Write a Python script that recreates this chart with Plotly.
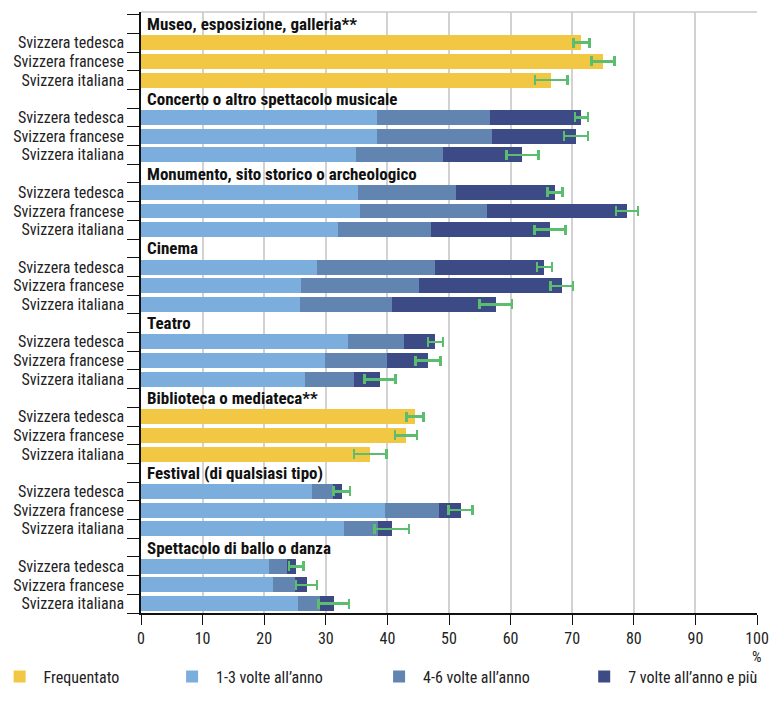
import plotly.graph_objects as go

groups = [
    "Museo, esposizione, galleria**",
    "Concerto o altro spettacolo musicale",
    "Monumento, sito storico o archeologico",
    "Cinema",
    "Teatro",
    "Biblioteca o mediateca**",
    "Festival (di qualsiasi tipo)",
    "Spettacolo di ballo o danza",
]
regions = ["Svizzera tedesca", "Svizzera francese", "Svizzera italiana"]

# values per group: [tedesca, francese, italiana]
frequentato = [
    [71.5, 75.0, 66.6], None, None, None, None,
    [44.5, 43.0, 37.2], None, None,
]
volte_1_3 = [
    None, [38.3, 38.3, 34.9], [35.3, 35.6, 32.0], [28.5, 25.9, 25.8],
    [33.6, 29.8, 26.6], None, [27.7, 39.6, 33.0], [20.8, 21.5, 25.5],
]
volte_4_6 = [
    None, [18.4, 18.6, 14.2], [15.8, 20.6, 15.1], [19.2, 19.2, 14.9],
    [9.1, 10.2, 7.9], None, [3.5, 8.7, 5.4], [2.9, 3.5, 3.6],
]
volte_7_piu = [
    None, [14.8, 13.7, 12.8], [16.1, 22.7, 19.3], [17.8, 23.2, 16.9],
    [5.1, 6.6, 4.3], None, [1.4, 3.6, 2.3], [1.5, 1.9, 2.2],
]
errore = [
    [1.3, 1.9, 2.6], [1.05, 1.95, 2.6], [1.2, 1.75, 2.5], [1.25, 1.85, 2.65],
    [1.25, 2.0, 2.55], [1.4, 1.8, 2.65], [1.35, 1.95, 2.8], [1.2, 1.7, 2.5],
]
x_ticks = [0, 10, 20, 30, 40, 50, 60, 70, 80, 90, 100]

series_names = ["Frequentato", "1-3 volte all’anno", "4-6 volte all’anno", "7 volte all’anno e più"]
colors = ["#F2C744", "#7BAEDC", "#6284B0", "#3C4A85"]
green = "#5BBE6E"

FONT = "Roboto Condensed, Roboto, Liberation Sans, sans-serif"

cats, cat_text = [], []
row_cats = []
for gi, g in enumerate(groups):
    cats.append(g)
    cat_text.append("")
    for r in regions:
        cid = f"{g} | {r}"
        cats.append(cid)
        cat_text.append(r)
        row_cats.append(cid)


def flatten(series):
    out = []
    for v in series:
        out.extend(v if v is not None else [None, None, None])
    return out


def err_for(series):
    out = []
    for v, e in zip(series, errore):
        out.extend(e if v is not None else [None, None, None])
    return out


fig = go.Figure()
all_series = [frequentato, volte_1_3, volte_4_6, volte_7_piu]
legend_ids = ["legend", "legend2", "legend3", "legend4"]
for i, (s, name, col) in enumerate(zip(all_series, series_names, colors)):
    kw = {}
    if i in (0, 3):
        kw["error_x"] = dict(type="data", array=err_for(s), symmetric=True,
                             color=green, thickness=2.5, width=5)
    fig.add_trace(go.Bar(
        y=row_cats, x=flatten(s), orientation="h", name=name,
        marker=dict(color=col, line=dict(width=0)),
        legend=legend_ids[i], **kw,
    ))

for g in groups:
    fig.add_annotation(x=0, y=g, xref="x", yref="y", text=f"<b>{g}</b>",
                       showarrow=False, xanchor="left", yanchor="middle", xshift=4,
                       font=dict(family=FONT, size=17, color="#111"))

fig.add_annotation(x=100, y=-0.074, xref="x", yref="paper", text="%", showarrow=False,
                   xanchor="center", yanchor="middle", font=dict(family=FONT, size=15, color="#222"))

fig.add_shape(type="line", xref="paper", yref="paper", x0=0, x1=1, y0=1, y1=1,
              line=dict(color="#c8c8c8", width=1.5))

leg_x = [-0.236, 0.044, 0.380, 0.713]
leg_layout = {}
for lid, lx in zip(legend_ids, leg_x):
    leg_layout[lid] = dict(orientation="h", x=lx, y=-0.106, xanchor="left", yanchor="middle",
                           itemwidth=38,
                           font=dict(family=FONT, size=16, color="#222"), bgcolor="rgba(0,0,0,0)")

fig.update_layout(
    width=763, height=698,
    margin=dict(l=133, r=14, t=4, b=93, autoexpand=False),
    barmode="stack", bargap=0.2,
    plot_bgcolor="white", paper_bgcolor="white",
    font=dict(family=FONT, size=16, color="#222"),
    xaxis=dict(range=[0, 100], tickvals=x_ticks, showgrid=True, gridcolor="#d2d2d2", gridwidth=1.5,
               ticks="outside", ticklen=10, tickcolor="#111", tickwidth=1.2, showline=True,
               linecolor="#111", linewidth=1.5, zeroline=False,
               tickfont=dict(family=FONT, size=16, color="#222")),
    yaxis=dict(type="category", categoryorder="array", categoryarray=cats, autorange="reversed",
               tickmode="array", tickvals=cats, ticktext=cat_text, tickson="boundaries",
               ticks="outside", ticklen=12, tickcolor="#111", tickwidth=1.2, showline=True,
               linecolor="#111", linewidth=1.5, showgrid=False, ticklabelstandoff=12,
               tickfont=dict(family=FONT, size=16, color="#222")),
    showlegend=True,
    **leg_layout,
)

fig.write_html("out.html")
